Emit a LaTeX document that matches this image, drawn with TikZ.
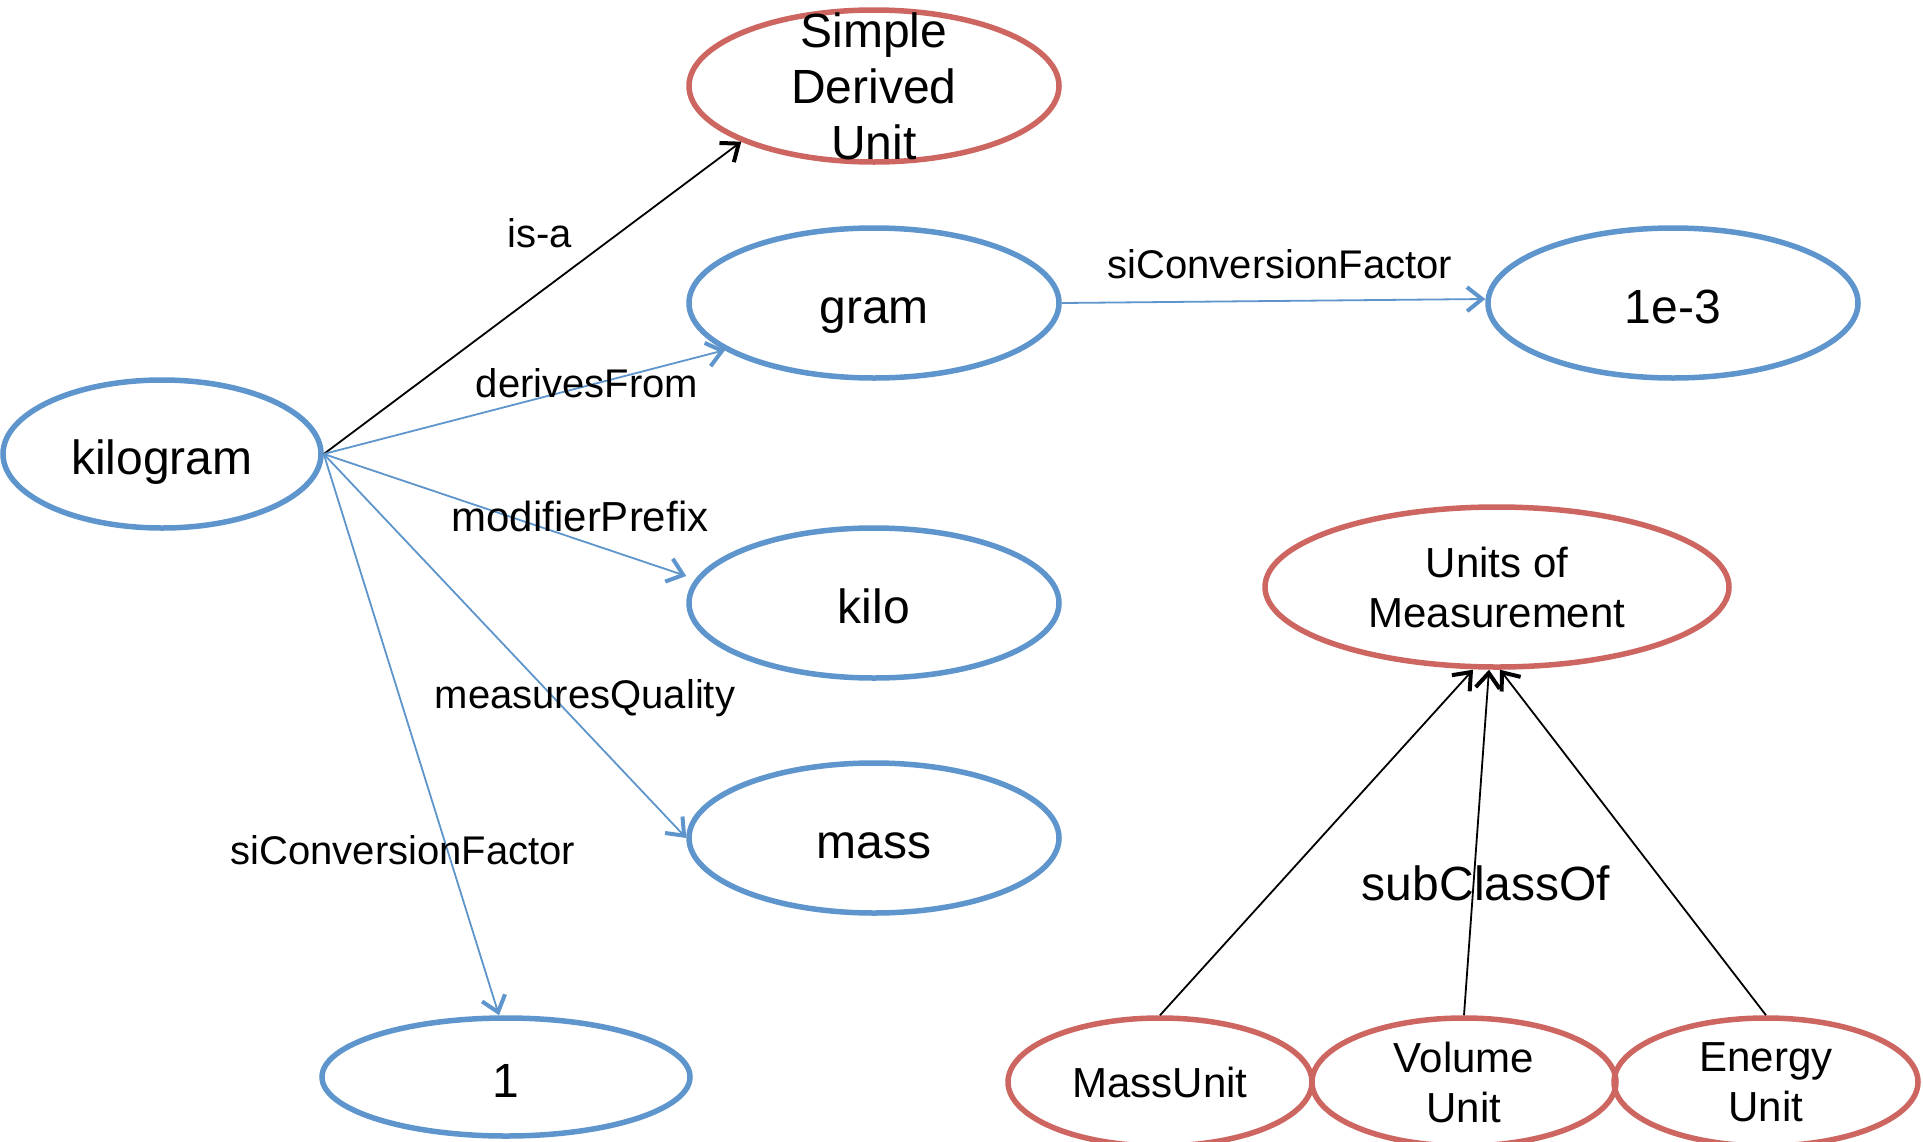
\documentclass[tikz,border=0pt]{standalone}
\usepackage{fontspec}
\setmainfont{Liberation Sans}
\usetikzlibrary{shapes.geometric,arrows.meta}
\definecolor{nodeblue}{HTML}{5E95CC}
\definecolor{nodered}{HTML}{CD6660}

\begin{document}
\begin{tikzpicture}[
    x=1pt, y=-1pt,
    ell/.style={draw, ellipse, line width=5.5pt, inner sep=0pt},
    inst/.style={ell, draw=nodeblue, minimum width=370pt, minimum height=150pt,
        font=\fontsize{48}{56}\selectfont, text height=40pt, text depth=0pt},
    cls/.style={ell, draw=nodered},
    bigtext/.style={font=\fontsize{48}{56}\selectfont, align=center},
    clstext/.style={font=\fontsize{42}{50}\selectfont, align=center},
    rel/.style={line width=1.8pt, -{Straight Barb[length=15pt,width=24pt,line width=4pt]}},
    bluerel/.style={rel, draw=nodeblue},
    edgetext/.style={font=\fontsize{40}{48}\selectfont, inner sep=0pt}
]
\fill[white] (0,0) rectangle (1923,1141);
\useasboundingbox (0,0) rectangle (1923,1141);

% instances
\node[inst, minimum width=318pt, minimum height=148pt] (kg) at (162,454) {kilogram};
\node[inst] (gram) at (874,303) {gram};
\node[inst] (e3) at (1673,303) {1e-3};
\node[inst] (kilo) at (874,603) {kilo};
\node[inst] (mass) at (874,838) {mass};
\node[inst, minimum width=368pt, minimum height=118pt] (one) at (506,1077) {1};

% classes
\node[cls, minimum width=370pt, minimum height=152pt,
    label={[bigtext]center:Simple\\Derived\\Unit}] (sdu) at (874,86) {};
\node[cls, minimum width=464pt, minimum height=160pt,
    label={[clstext]center:Units of\\Measurement}] (uom) at (1497,587) {};
\node[cls, minimum width=304pt, minimum height=128pt, clstext] (mu) at (1160,1082) {MassUnit};
\node[cls, minimum width=304pt, minimum height=128pt,
    label={[clstext]center:Volume\\Unit}] (vu) at (1464,1082) {};
\node[cls, minimum width=304pt, minimum height=128pt,
    label={[clstext]center:Energy\\Unit}] (eu) at (1766,1082) {};

% edges
\draw[rel] (kg.east) -- (sdu.south west);
\draw[bluerel] (kg.east) -- ([xshift=-16pt,yshift=8pt]gram.south west);
\draw[bluerel] (kg.east) -- ([yshift=27pt]kilo.west);
\draw[bluerel] (kg.east) -- (mass.west);
\draw[bluerel] (kg.east) -- ([xshift=-7pt]one.north);
\draw[bluerel] (gram.east) -- ([yshift=4pt]e3.west);
\draw[rel] (mu.north) -- ([xshift=-24pt]uom.south);
\draw[rel] (vu.north) -- ([xshift=-8pt]uom.south);
\draw[rel] (eu.north) -- ([xshift=3pt]uom.south);

% edge labels
\node[edgetext] (isa) at (540,233) {is-a};
\node[edgetext] (derives) at (587,383) {derivesFrom};
\node[edgetext, font=\fontsize{42}{50}\selectfont] (prefix) at (580,516) {modifierPrefix};
\node[edgetext] (quality) at (585,698) {measuresQuality};
\node[edgetext] (convone) at (403,850) {siConversionFactor};
\node[edgetext] (convgram) at (1280,264) {siConversionFactor};
\node[edgetext, font=\fontsize{48}{56}\selectfont] (subcls) at (1486,883) {subClassOf};
\end{tikzpicture}
\end{document}
